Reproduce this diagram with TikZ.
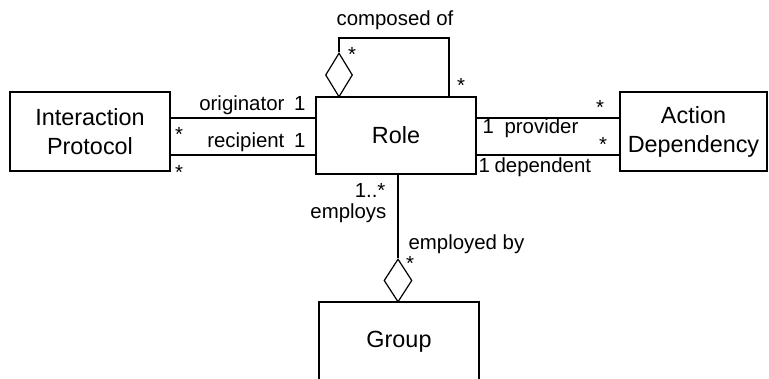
\documentclass[tikz,border=0pt]{standalone}
\usepackage{fontspec}
\setmainfont{Liberation Sans}
\usetikzlibrary{shapes.geometric}
\begin{document}
\begin{tikzpicture}[x=0.5pt, y=-0.5pt, line width=0.6pt,
  box/.style={shape=rectangle, draw, minimum width=80pt, minimum height=39.5pt, align=center, font=\fontsize{11.7}{14.5}\selectfont},
  lbl/.style={inner sep=0pt, font=\fontsize{10.2}{12}\selectfont},
  agg/.style={shape=diamond, draw, inner sep=0pt, minimum width=13.5pt, minimum height=22pt}]
\useasboundingbox (0,0) rectangle (769,379);
% classes
\node[box] (ip) at (90,131.5) {Interaction\\Protocol};
\node[box, minimum height=38.5pt] (role) at (396,135.5) {Role};
\node[box, minimum width=73.5pt] (ad) at (693.5,131.5) {Action\\Dependency};
\node[box, minimum height=40pt] (grp) at (399,342) {Group};
% aggregation diamonds
\node[agg] (cd) at (339,75) {};
\node[agg, minimum width=14pt, minimum height=21.5pt] (gd) at (398,280.5) {};
% associations
\draw (ip.east |- 0,118) -- (role.west |- 0,118);
\draw (ip.east |- 0,155) -- (role.west |- 0,155);
\draw (role.east |- 0,118) -- (ad.west |- 0,118);
\draw (role.east |- 0,155) -- (ad.west |- 0,155);
\draw (cd.north) -- (cd.north |- 0,38) -| (role.north -| 449,0);
\draw (role.south -| gd.north) -- (gd.north);
% role names and multiplicities
\node[lbl, anchor=base east] (orig) at (285,111) {originator};
\node[lbl, anchor=base east] (orig1) at (306,111) {1};
\node[lbl, anchor=base east] (recp) at (285,148) {recipient};
\node[lbl, anchor=base east] (recp1) at (306,148) {1};
\node[lbl, anchor=base] (origm) at (179,142) {*};
\node[lbl, anchor=base] (recpm) at (179,179) {*};
\node[lbl, anchor=base] (comp) at (395,26) {composed of};
\node[lbl, anchor=base] (compm1) at (352,62) {*};
\node[lbl, anchor=base] (compm2) at (461,93) {*};
\node[lbl, anchor=base west] (prov1) at (482,134) {1};
\node[lbl, anchor=base west] (prov) at (504,134) {provider};
\node[lbl, anchor=base] (provm) at (600,115) {*};
\node[lbl, anchor=base] (depm) at (603,152) {*};
\node[lbl, anchor=base west] (dep1) at (478,173) {1};
\node[lbl, anchor=base west] (dep) at (494,173) {dependent};
\node[lbl, anchor=base east] (empm) at (386,198) {1..*};
\node[lbl, anchor=base east] (emp) at (387,218) {employs};
\node[lbl, anchor=base west] (empd) at (408,249) {employed by};
\node[lbl, anchor=base] (empdm) at (410,270) {*};
\end{tikzpicture}
\end{document}
